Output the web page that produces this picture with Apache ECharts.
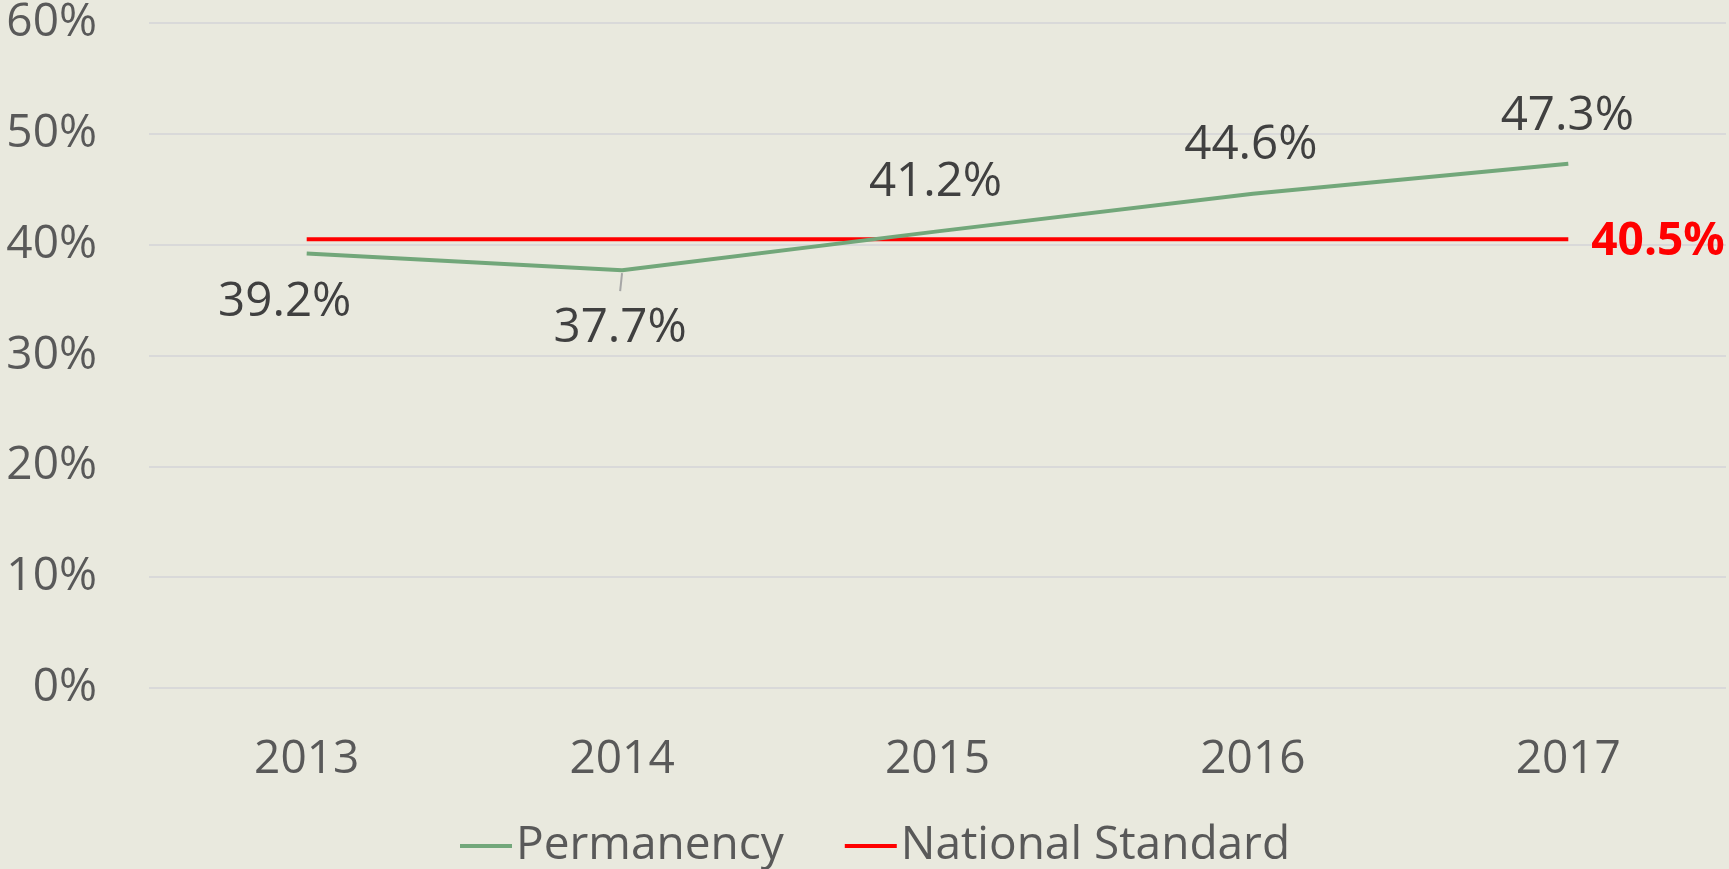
<!DOCTYPE html>
<html>
<head>
<meta charset="utf-8">
<script src="https://cdn.jsdelivr.net/npm/echarts@6/dist/echarts.min.js"></script>
<style>
html,body{margin:0;padding:0;background:#E9E9DE;}
#chart{width:1729px;height:869px;}
</style>
</head>
<body>
<div id="chart"></div>
<script>
var categories = ['2013', '2014', '2015', '2016', '2017'];
var permanency = [39.2, 37.7, 41.2, 44.6, 47.3];
var nationalStandard = [40.5, 40.5, 40.5, 40.5, 40.5];
var yTicks = [0, 10, 20, 30, 40, 50, 60];

var FONT = '"Open Sans", "Noto Sans", sans-serif';

// label placement per point (style only)
var permLabelStyle = [
  {position: 'bottom', distance: 25, offset: [-22, 0]},
  {position: 'bottom', distance: 34, offset: [-2, 0]},
  {position: 'top', distance: 25, offset: [-2, 0]},
  {position: 'top', distance: 24, offset: [-2, 0]},
  {position: 'top', distance: 23, offset: [-1, 0]}
];

var permData = permanency.map(function (v, i) {
  var s = permLabelStyle[i];
  return {value: v, label: {position: s.position, distance: s.distance, offset: s.offset}};
});

var nsData = nationalStandard.map(function (v, i) {
  return {
    value: v,
    label: {show: i === nationalStandard.length - 1}
  };
});

var chart = echarts.init(document.getElementById('chart'), null, {renderer: 'canvas'});
chart.setOption({
  backgroundColor: '#E9E9DE',
  animation: false,
  grid: {left: 149, right: 3, top: 21, bottom: 181, containLabel: false},
  legend: {
    data: ['Permanency', 'National Standard'],
    left: 455,
    top: 818,
    icon: 'rect',
    itemWidth: 52,
    itemHeight: 4,
    itemGap: 61,
    textStyle: {fontFamily: FONT, fontSize: 46, color: '#595959', padding: [0, 0, 0, -1]}
  },
  xAxis: {
    type: 'category',
    data: categories,
    boundaryGap: true,
    axisLine: {show: false},
    axisTick: {show: false},
    axisLabel: {fontFamily: FONT, fontSize: 46, color: '#595959', margin: 49}
  },
  yAxis: {
    type: 'value',
    min: yTicks[0],
    max: yTicks[yTicks.length - 1],
    interval: 10,
    axisLine: {show: false},
    axisTick: {show: false},
    splitLine: {lineStyle: {color: '#D9D9D9', width: 2}},
    axisLabel: {
      fontFamily: FONT, fontSize: 46, color: '#595959', margin: 52,
      formatter: function (v) { return v + '%'; }
    }
  },
  series: [
    {
      name: 'Permanency',
      type: 'line',
      data: permData,
      symbol: 'circle',
      symbolSize: 0.01,
      showSymbol: true,
      lineStyle: {color: '#72A77A', width: 4},
      itemStyle: {color: '#72A77A'},
      z: 3,
      label: {
        show: true,
        fontFamily: FONT, fontSize: 47.5, color: '#404040',
        formatter: function (p) { return p.value.toFixed(1) + '%'; }
      },
      markPoint: {
        silent: true,
        animation: false,
        data: [{
          coord: [categories[1], permanency[1]],
          symbol: 'rect',
          symbolSize: [2, 18],
          symbolOffset: [-1, 12],
          symbolRotate: -6,
          itemStyle: {color: '#A6A6A6'},
          label: {show: false}
        }]
      }
    },
    {
      name: 'National Standard',
      type: 'line',
      data: nsData,
      symbol: 'circle',
      symbolSize: 0.01,
      showSymbol: true,
      lineStyle: {color: '#FF0000', width: 4},
      itemStyle: {color: '#FF0000'},
      z: 2,
      label: {
        position: 'right',
        distance: 23,
        offset: [0, 3],
        fontFamily: FONT, fontSize: 46, fontWeight: 'bold', color: '#FF0000',
        formatter: function (p) { return p.value.toFixed(1) + '%'; }
      }
    }
  ]
});
</script>
</body>
</html>
